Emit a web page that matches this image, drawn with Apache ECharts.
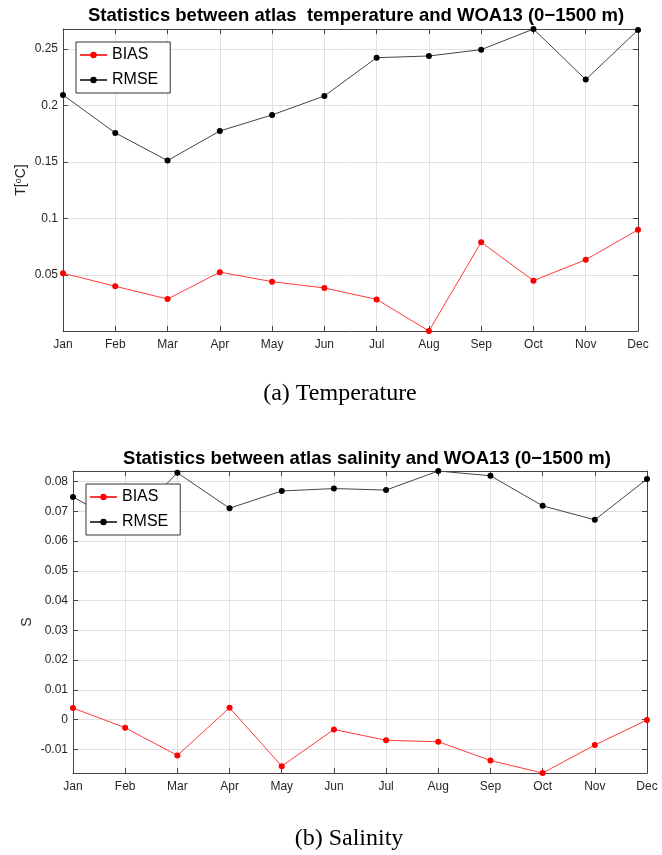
<!DOCTYPE html>
<html>
<head>
<meta charset="utf-8">
<script src="https://cdn.jsdelivr.net/npm/echarts@6/dist/echarts.min.js"></script>
<style>
  html, body { margin: 0; padding: 0; background: #fff; }
  #chart { width: 662px; height: 855px; }
</style>
</head>
<body>
<div id="chart"></div>
<script>
// data
var months = ['Jan', 'Feb', 'Mar', 'Apr', 'May', 'Jun', 'Jul', 'Aug', 'Sep', 'Oct', 'Nov', 'Dec'];
var tempBias = [0.0515, 0.0399, 0.0286, 0.0524, 0.0440, 0.0384, 0.0283, 0.0003, 0.0789, 0.0449, 0.0634, 0.0899];
var tempRmse = [0.2093, 0.1757, 0.1512, 0.1774, 0.1916, 0.2084, 0.2423, 0.2438, 0.2494, 0.2677, 0.2229, 0.2668];
var salBias = [0.0039, -0.0027, -0.0120, 0.0040, -0.0156, -0.0033, -0.0069, -0.0074, -0.0137, -0.0179, -0.0085, -0.0001];
var salRmse = [0.0748, 0.0650, 0.0829, 0.0710, 0.0768, 0.0776, 0.0771, 0.0835, 0.0819, 0.0718, 0.0671, 0.0808];
var seriesNames = ['BIAS', 'RMSE'];

var titles = [
  'Statistics between atlas  temperature and WOA13 (0\u22121500 m)',
  'Statistics between atlas salinity and WOA13 (0\u22121500 m)'
];
var captions = ['(a) Temperature', '(b) Salinity'];

// matlab style: tight y limits
var tMin = Math.min.apply(null, tempBias.concat(tempRmse));
var tMax = Math.max.apply(null, tempBias.concat(tempRmse));
var sMin = Math.min.apply(null, salBias.concat(salRmse));
var sMax = Math.max.apply(null, salBias.concat(salRmse));

var boxColor = '#454545';
var gridColor = '#e0e0e0';
var labelColor = '#262626';
var font = 'Liberation Sans, Arial, sans-serif';

function xAx(gridIndex, top) {
  return {
    type: 'category',
    gridIndex: gridIndex,
    data: months,
    position: top ? 'top' : 'bottom',
    boundaryGap: false,
    axisLine: { onZero: false, lineStyle: { color: boxColor, width: 1 } },
    axisTick: { show: true, inside: true, length: 5, lineStyle: { color: boxColor } },
    axisLabel: { show: !top, interval: 0, color: labelColor, fontSize: 12, fontFamily: font, margin: 8 },
    splitLine: { show: !top, lineStyle: { color: gridColor, width: 1 } }
  };
}

function yAx(gridIndex, right, mn, mx, split, name, gap) {
  return {
    type: 'value',
    gridIndex: gridIndex,
    position: right ? 'right' : 'left',
    min: mn,
    max: mx,
    splitNumber: split,
    name: right ? '' : name,
    nameLocation: 'middle',
    nameGap: gap,
    nameRotate: 90,
    nameMoveOverlap: false,
    nameTextStyle: {
      color: labelColor, fontSize: 14, fontFamily: font,
      rich: { sup: { fontSize: 9, verticalAlign: 'top', color: labelColor, fontFamily: font, padding: [0, 0, 6, 0] } }
    },
    axisLine: { show: true, onZero: false, lineStyle: { color: boxColor, width: 1 } },
    axisTick: { show: true, inside: true, length: 5, lineStyle: { color: boxColor } },
    axisLabel: { show: !right, showMinLabel: false, showMaxLabel: false, color: labelColor, fontSize: 12, fontFamily: font, margin: 5 },
    splitLine: { show: !right, lineStyle: { color: gridColor, width: 1 } }
  };
}

function lineSeries(name, data, idx, color, lineColor) {
  return {
    name: name,
    type: 'line',
    xAxisIndex: idx,
    yAxisIndex: idx,
    data: data,
    symbol: 'circle',
    symbolSize: 6,
    itemStyle: { color: color },
    lineStyle: { color: lineColor, width: 1 },
    animation: false
  };
}

function legendAt(left, top) {
  return {
    data: seriesNames,
    orient: 'vertical',
    left: left,
    top: top,
    padding: [5, 12, 5, 3],
    itemGap: 9,
    itemWidth: 27,
    itemHeight: 8,
    backgroundColor: '#fff',
    borderColor: '#333',
    borderWidth: 1,
    borderRadius: 0,
    textStyle: { color: '#000', fontSize: 16, fontFamily: font }
  };
}

var myChart = echarts.init(document.getElementById('chart'), null, { renderer: 'canvas' });

var option = {
  backgroundColor: '#fff',
  animation: false,
  title: [
    { text: titles[0], left: 356, top: 6, textAlign: 'center', padding: 0,
      textStyle: { fontSize: 18.5, fontWeight: 'bold', color: '#000', fontFamily: font } },
    { text: titles[1], left: 367, top: 449, textAlign: 'center', padding: 0,
      textStyle: { fontSize: 18.5, fontWeight: 'bold', color: '#000', fontFamily: font } },
    { text: captions[0], left: 340, top: 382, textAlign: 'center', padding: 0,
      textStyle: { fontSize: 24, fontWeight: 'normal', color: '#000', fontFamily: 'Liberation Serif, Times New Roman, serif' } },
    { text: captions[1], left: 349, top: 827, textAlign: 'center', padding: 0,
      textStyle: { fontSize: 24, fontWeight: 'normal', color: '#000', fontFamily: 'Liberation Serif, Times New Roman, serif' } }
  ],
  legend: [legendAt(76, 42), legendAt(86, 484)],
  grid: [
    { left: 63, right: 24, top: 29, height: 302, containLabel: false },
    { left: 73, right: 15, top: 471, height: 302, containLabel: false }
  ],
  xAxis: [xAx(0, false), xAx(0, true), xAx(1, false), xAx(1, true)],
  yAxis: [
    yAx(0, false, tMin, tMax, 5, 'T[{sup|o}C]', 34),
    yAx(0, true, tMin, tMax, 5, '', 0),
    yAx(1, false, sMin, sMax, 10, 'S', 39),
    yAx(1, true, sMin, sMax, 10, '', 0)
  ],
  series: [
    lineSeries(seriesNames[0], tempBias, 0, '#ff0000', '#ff3a3a'),
    lineSeries(seriesNames[1], tempRmse, 0, '#000000', '#444444'),
    lineSeries(seriesNames[0], salBias, 2, '#ff0000', '#ff3a3a'),
    lineSeries(seriesNames[1], salRmse, 2, '#000000', '#444444')
  ]
};

myChart.setOption(option);
</script>
</body>
</html>
